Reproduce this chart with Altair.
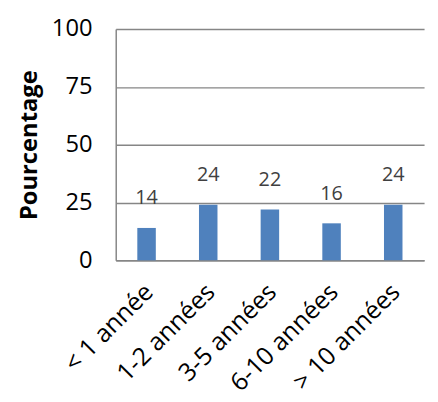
import altair as alt
import pandas as pd

categories = ["< 1 année", "1-2 années", "3-5 années", "6-10 années", "> 10 années"]
values = [14, 24, 22, 16, 24]
y_ticks = [0, 25, 50, 75, 100]

df = pd.DataFrame({"cat": categories, "val": values})

FONT = "Open Sans"

base = alt.Chart(df).encode(
    x=alt.X("cat:N", sort=categories, title=None,
            scale=alt.Scale(paddingInner=0.7, paddingOuter=0.35),
            axis=alt.Axis(labelAngle=-45, labelFontSize=25, labelFont=FONT,
                          labelColor="#000000", ticks=False, labelPadding=19,
                          labelOffset=-6, grid=False,
                          domainColor="#868686", domainWidth=1.5)),
    y=alt.Y("val:Q", title="Pourcentage",
            scale=alt.Scale(domain=[0, 100], nice=False),
            axis=alt.Axis(values=y_ticks, labelFontSize=24, labelFont=FONT,
                          labelColor="#000000", ticks=False, labelPadding=24,
                          titleFont=FONT, titleFontSize=24, titleFontWeight="bold",
                          titleColor="#000000", titlePadding=10,
                          grid=True, gridColor="#868686", gridWidth=1.5,
                          domainColor="#868686", domainWidth=1.5)),
)

bars = base.mark_bar(color="#4F81BD")
labels = base.mark_text(baseline="bottom", dy=-20, fontSize=20, font=FONT,
                        color="#404040").encode(text="val:Q")

chart = alt.layer(bars, labels).properties(
    width=312, height=234,
    background="#ffffff",
    autosize=alt.AutoSizeParams(type="none"),
    padding={"left": 109, "top": 19, "right": 6, "bottom": 138},
).configure_view(strokeWidth=0)

chart.save("out.html", embed_options={"renderer": "svg", "actions": False})
